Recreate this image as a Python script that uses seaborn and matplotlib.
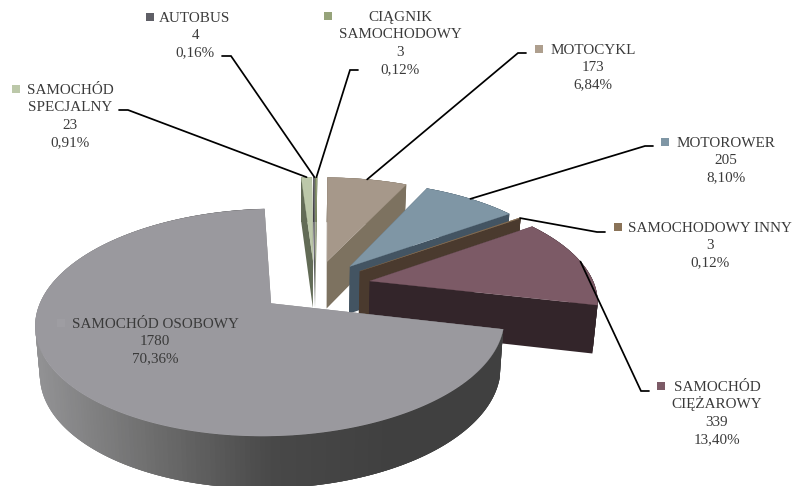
"""Exploded 3D-look pie of vehicle categories, projected by hand onto matplotlib axes."""

import matplotlib.pyplot as plt
import numpy as np
import seaborn as sns

# ── Data ──────────────────────────────────────────────────────────────────────
# counter-clockwise from the top of the pie, back-to-front is handled below
categories = [
    ["SAMOCHÓD", "OSOBOWY"],
    ["SAMOCHÓD", "CIĘŻAROWY"],
    ["SAMOCHODOWY INNY"],
    ["MOTOROWER"],
    ["MOTOCYKL"],
    ["CIĄGNIK", "SAMOCHODOWY"],
    ["AUTOBUS"],
    ["SAMOCHÓD", "SPECJALNY"],
]
values = [1780, 339, 3, 205, 173, 3, 4, 23]

top_colors = ["#9a999e", "#7c5a66", "#8a7358", "#7f96a5", "#a6988a", "#96a37a", "#6a6a70", "#bcc8a9"]
side_colors = ["#7a7a7c", "#33252a", "#4a3a2e", "#435462", "#7d7260", "#5d6648", "#3f3f44", "#626b56"]
marker_colors = ["#9e9da2", "#7c5a66", "#8a7358", "#7f96a5", "#ae9f8e", "#96a37a", "#5f5f66", "#bcc8a9"]

# label anchor: centre x of the text, y of first line, marker x
label_x = [155, 717, 710, 726, 593, 400, 195, 70]
label_y = [323, 386, 227, 142, 49, 16, 17, 89]
marker_x = [61, 661, 618, 665, 539, 328, 150, 16]
# leader elbows: text end, elbow
leader_start = [None, (649, 391), (605, 232), (653, 146), (526, 53), (358, 70), (222, 56), (119, 110)]
leader_elbow = [None, (641, 391), (597, 232), (645, 146), (518, 53), (350, 70), (231, 56), (128, 110)]

# ── Projection of the pie plane ───────────────────────────────────────────────
START_ANGLE = 93.7
EXPLODE = 0.25
CX, CY = 315.0, 286.0
SCALE_X, SCALE_Y = 225.0, 104.8
PERSPECTIVE = 0.1625
DEPTH = 47.8


def project(u, v):
    w = 1 + PERSPECTIVE * v
    return CX + SCALE_X * u / w, CY - SCALE_Y * v / w


def extrude(x, y):
    return x - 0.0175 * (x - 300), y + DEPTH + 0.03 * (y - CY)


def slice_outline(theta1, theta2, n=240):
    mid = np.radians((theta1 + theta2) / 2)
    ox, oy = EXPLODE * np.cos(mid), EXPLODE * np.sin(mid)
    t = np.radians(np.linspace(theta1, theta2, n))
    rim_x, rim_y = project(ox + np.cos(t), oy + np.sin(t))
    apex_x, apex_y = project(ox, oy)
    return (apex_x, apex_y), rim_x, rim_y


def draw_quad(ax, x0, y0, x1, y1, color):
    bx0, by0 = extrude(x0, y0)
    bx1, by1 = extrude(x1, y1)
    ax.fill([x0, x1, bx1, bx0], [y0, y1, by1, by0], color=color, lw=0)


sns.set_theme(style="white")
plt.rcParams["font.family"] = ["Liberation Serif", "DejaVu Serif"]

fig = plt.figure(figsize=(7.92, 4.86), dpi=100)
ax = fig.add_axes([0, 0, 1, 1])
ax.set_xlim(0, 792)
ax.set_ylim(486, 0)
ax.axis("off")

total = sum(values)
edges = START_ANGLE + 360 * np.cumsum([0] + values) / total
rim_shades = sns.blend_palette(["#929294", "#6c6c6c", "#484848", "#404040", "#404040"], 200)

# far slices first, the big front slice last
draw_order = [7, 6, 5, 4, 3, 2, 1, 0]
for i in draw_order:
    (ax_x, ax_y), rim_x, rim_y = slice_outline(edges[i], edges[i + 1])
    draw_quad(ax, ax_x, ax_y, rim_x[0], rim_y[0], side_colors[i])
    draw_quad(ax, ax_x, ax_y, rim_x[-1], rim_y[-1], side_colors[i])
    # each facet overlaps the next one so no seams show in the gradient
    for k in range(len(rim_x) - 1):
        if i == 0:
            shade = rim_shades[int(np.clip((rim_x[k] - 35) / 470, 0, 1) * 199)]
        else:
            shade = side_colors[i]
        end = min(k + 3, len(rim_x) - 1)
        draw_quad(ax, rim_x[k], rim_y[k], rim_x[end], rim_y[end], shade)
    ax.fill(np.r_[ax_x, rim_x], np.r_[ax_y, rim_y], color=top_colors[i], lw=0.2)

# ── Labels and leaders ────────────────────────────────────────────────────────
TEXT_COLOR = "#3a3a3a"
LINE_PITCH = 17.3
for i, name_lines in enumerate(categories):
    pct = f"{100 * values[i] / total:.2f}%".replace(".", ",")
    lines = name_lines + [str(values[i]), pct]
    if i == 0:
        lines = ["SAMOCHÓD OSOBOWY", str(values[i]), pct]
    for k, line in enumerate(lines):
        ax.text(label_x[i], label_y[i] + 5 + k * LINE_PITCH, line, ha="center", va="baseline",
                fontsize=10.9, color=TEXT_COLOR)
    ax.scatter([marker_x[i]], [label_y[i]], marker="s", s=32, color=marker_colors[i], linewidths=0)
    if leader_start[i] is not None:
        _, rim_x, rim_y = slice_outline(edges[i], edges[i + 1])
        mid = len(rim_x) // 2
        ax.plot([leader_start[i][0], leader_elbow[i][0], rim_x[mid]],
                [leader_start[i][1], leader_elbow[i][1], rim_y[mid]],
                color="black", lw=1.25, solid_joinstyle="miter")

fig.savefig("out.png", dpi=100)
